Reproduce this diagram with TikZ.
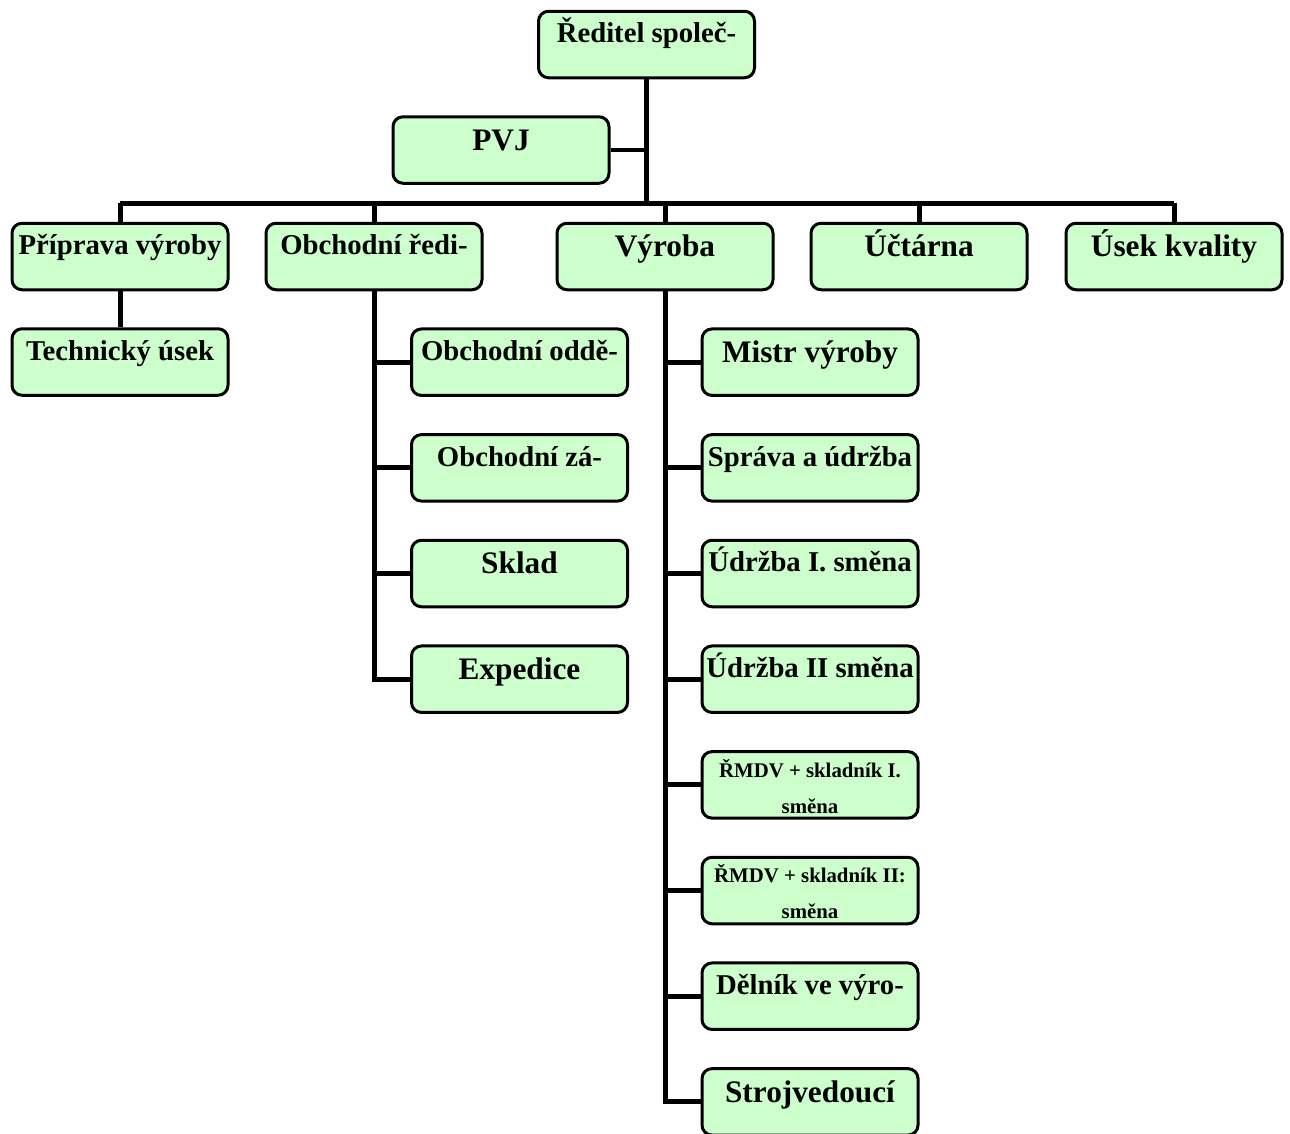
\documentclass[tikz,border=0pt]{standalone}
\usepackage{fontspec}
\setmainfont{Liberation Serif}
\usetikzlibrary{positioning}

\definecolor{boxfill}{HTML}{CCFFCC}

\tikzset{
    orgbox/.style={draw=black, fill=boxfill, line width=3pt,
        rounded corners=10pt, minimum width=216pt, inner sep=0pt,
        align=center},
    midtext/.style={text height=31.5pt, text depth=35pt,
        font=\bfseries\fontsize{28.7}{34}\selectfont},
    bigtext/.style={text height=33.5pt, text depth=33pt,
        font=\bfseries\fontsize{31.3}{36}\selectfont},
    % two lines: the height is counted from the last line
    tinytext/.style={text height=61.5pt, text depth=5pt,
        font=\bfseries\fontsize{20.8}{36}\selectfont},
    link/.style={line width=5pt, line join=miter},
}

\begin{document}
\begin{tikzpicture}[x=1pt, y=-1pt]
\useasboundingbox (0,0) rectangle (1290,1133);

% ------------------------------------------------------------ top
\node[orgbox, midtext] (ceo) at (646.5,44.5) {Ředitel společ-};
\node[orgbox, bigtext] (pvj) at (501,150) {PVJ};

% ------------------------------------------------------------ first row
\node[orgbox, midtext] (prep) at (120,256.5) {Příprava výroby};
\node[orgbox, midtext] (obch) at (374,256.5) {Obchodní ředi-};
\node[orgbox, bigtext] (vyr)  at (665,256.5) {Výroba};
\node[orgbox, bigtext] (uct)  at (919,256.5) {Účtárna};
\node[orgbox, bigtext] (kval) at (1174,256.5) {Úsek kvality};

\node[orgbox, midtext] (tech) at (120,362) {Technický úsek};

% ------------------------------------------------------------ under Obchodní
\foreach \i/\txt/\sty in {1/Obchodní oddě-/midtext, 2/Obchodní zá-/midtext,
                          3/Sklad/bigtext, 4/Expedice/bigtext}
    \node[orgbox, \sty] (obch\i) at (519.5, {256.5+105.67*\i}) {\txt};

% ------------------------------------------------------------ under Výroba
\foreach \i/\txt/\sty in {1/Mistr výroby/bigtext, 2/Správa a údržba/midtext,
                          3/Údržba I. směna/midtext, 4/Údržba II směna/midtext,
                          5/ŘMDV + skladník I.\\směna/tinytext,
                          6/ŘMDV + skladník II:\\směna/tinytext,
                          7/Dělník ve výro-/midtext, 8/Strojvedoucí/bigtext}
    \node[orgbox, \sty] (vyr\i) at (810, {256.5+105.67*\i}) {\txt};

% ------------------------------------------------------------ connectors
\coordinate (busL) at (120,203);
\coordinate (busR) at (1174,203);
\draw[link] (busL) -- (busR);
\draw[link] (ceo.south) -- (ceo.south |- busL);
\draw[link, line width=4pt] (pvj.east) -- (pvj.east -| ceo.south);
\foreach \n in {prep, obch, vyr, uct, kval}
    \draw[link] (\n.north) -- (\n.north |- busL);
\draw[link] (prep.south) -- (tech.north);

\draw[link] (obch.south) |- (obch4.west);
\foreach \i in {1,2,3}
    \draw[link] (obch\i.west) -- (obch\i.west -| obch.south);

\draw[link] (vyr.south) |- (vyr8.west);
\foreach \i in {1,...,7}
    \draw[link] (vyr\i.west) -- (vyr\i.west -| vyr.south);

\end{tikzpicture}
\end{document}
